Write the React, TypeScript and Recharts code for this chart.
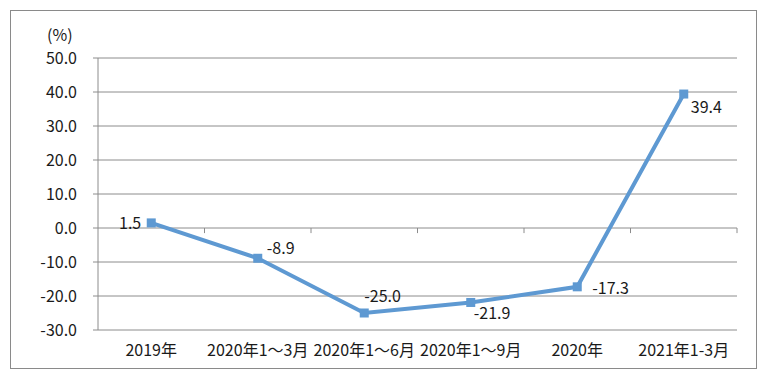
import React from 'react';
import { LineChart, Line, XAxis, YAxis, CartesianGrid, ReferenceLine, LabelList } from 'recharts';

const categories = ['2019年', '2020年1～3月', '2020年1～6月', '2020年1～9月', '2020年', '2021年1-3月'];
const growth = [1.5, -8.9, -25.0, -21.9, -17.3, 39.4];
const yTicks = [-30, -20, -10, 0, 10, 20, 30, 40, 50];
const boundaries = [1, 2, 3, 4, 5, 6];
const xCenters = categories.map((_, i) => i + 0.5);

const data = categories.map((name, i) => ({ name, pos: xCenters[i], value: growth[i] }));

const FONT = '"Noto Sans CJK SC", "Noto Sans", sans-serif';
const LINE = '#5E99D2';
const GRID = '#8c8c8c';
const TEXT = '#1a1a1a';

// label placement (dx, dy, anchor) per point
const labelPlacement: [number, number, string][] = [
  [-10, -1, 'end'],
  [9, -11, 'start'],
  [0, -18, 'start'],
  [3, 10, 'start'],
  [15, 0, 'start'],
  [7, 12, 'start'],
];

const SquareDot = (props: any) => {
  const { cx, cy } = props;
  if (cx == null || cy == null) return null;
  return <rect x={cx - 4.5} y={cy - 4.5} width={9} height={9} fill={LINE} />;
};

const renderLabel = (props: any) => {
  const { x, y, index, value } = props;
  const [dx, dy, anchor] = labelPlacement[index];
  return (
    <text
      x={x + dx}
      y={y + dy}
      textAnchor={anchor as any}
      dominantBaseline="central"
      fontSize={16}
      fontFamily={FONT}
      fill={TEXT}
    >
      {Number(value).toFixed(1)}
    </text>
  );
};

export default function App() {
  return (
    <div style={{ position: 'absolute', left: 0, top: 0, width: 772, height: 380, background: '#fff' }}>
      <div
        style={{
          position: 'absolute',
          left: 10,
          top: 10,
          width: 745,
          height: 357,
          border: '1px solid #8a8a8a',
        }}
      />
      <div
        style={{
          position: 'absolute',
          left: 47,
          top: 24,
          fontSize: 16,
          fontFamily: FONT,
          color: TEXT,
          lineHeight: '20px',
        }}
      >
        (%)
      </div>
      <div style={{ position: 'absolute', left: 0, top: 0 }}>
        <LineChart width={772} height={380} data={data} margin={{ top: 58, right: 35, bottom: 0, left: 0 }}>
          <CartesianGrid horizontal vertical={false} stroke={GRID} strokeDasharray="" />
          <XAxis
            dataKey="pos"
            type="number"
            domain={[0, 6]}
            allowDataOverflow
            ticks={xCenters}
            interval={0}
            tickFormatter={(v: number) => categories[Math.round(v - 0.5)]}
            height={50}
            axisLine={false}
            tickLine={false}
            tickSize={0}
            tickMargin={15}
            tick={{ fontSize: 16, fontFamily: FONT, fill: TEXT }}
          />
          <YAxis
            width={98}
            domain={[-30, 50]}
            ticks={yTicks}
            interval={0}
            allowDataOverflow
            tickFormatter={(v: number) => v.toFixed(1)}
            axisLine={{ stroke: GRID }}
            tickLine={{ stroke: GRID }}
            tickSize={5}
            tickMargin={16}
            tick={{ fontSize: 16, fontFamily: FONT, fill: TEXT }}
          />
          {boundaries.map((b) => (
            <ReferenceLine
              key={b}
              segment={[{ x: b, y: 0 }, { x: b, y: -1.5 }]}
              stroke={GRID}
            />
          ))}
          <Line
            type="linear"
            dataKey="value"
            stroke={LINE}
            strokeWidth={4}
            dot={<SquareDot />}
            activeDot={false}
            isAnimationActive={false}
          >
            <LabelList dataKey="value" content={renderLabel} />
          </Line>
        </LineChart>
      </div>
    </div>
  );
}
